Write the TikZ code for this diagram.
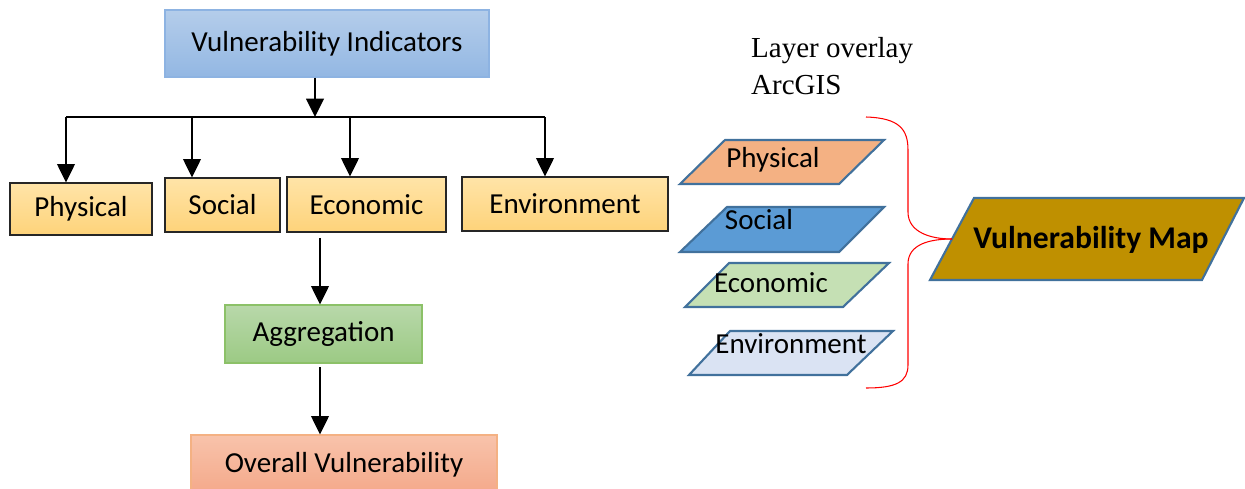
\documentclass[tikz,border=0pt]{standalone}
\usepackage{fontspec}
\setmainfont{Carlito}
\newfontfamily\timesfont{Liberation Serif}
\usetikzlibrary{arrows.meta}

\definecolor{viTop}{HTML}{B4CDEA}
\definecolor{viBot}{HTML}{93B7E3}
\definecolor{viLine}{HTML}{8DB3E2}
\definecolor{catTop}{HTML}{FFE4A8}
\definecolor{catBot}{HTML}{FED37A}
\definecolor{aggTop}{HTML}{B8D8AA}
\definecolor{aggBot}{HTML}{9CCA84}
\definecolor{aggLine}{HTML}{8CC168}
\definecolor{ovrTop}{HTML}{F8C3AB}
\definecolor{ovrBot}{HTML}{F4A889}
\definecolor{ovrLine}{HTML}{F4B183}
\definecolor{layLine}{HTML}{41719C}
\definecolor{layPhys}{HTML}{F4B183}
\definecolor{laySoc}{HTML}{5B9BD5}
\definecolor{layEco}{HTML}{C5E0B4}
\definecolor{layEnv}{HTML}{DAE3F3}
\definecolor{mapFill}{HTML}{BF9000}

\begin{document}
\begin{tikzpicture}[x=0.2mm,y=-0.2mm]
	\tikzset{
		txt/.style={font=\fontsize{16.5}{20}\selectfont},
		box/.style={txt, rectangle, draw, inner sep=0pt, line width=0.6pt},
		catbox/.style={box, draw=black!85, top color=catTop, bottom color=catBot},
		arr/.style={line width=1.3pt, -{Triangle[width=10pt,length=10.5pt]}},
		layer/.style={draw=layLine, line width=1.2pt, line join=miter},
		brace/.style={red, line width=0.6pt}
	}
	\useasboundingbox (0,0) rectangle (1245,488);

	% Top indicator box
	\node[box, draw=viLine, top color=viTop, bottom color=viBot,
		minimum width=64.8mm, minimum height=13.4mm] (vi) at (327,43.5) {Vulnerability Indicators};

	% Four indicator groups
	\node[catbox, minimum width=28.4mm, minimum height=10.4mm] (phys) at (81,209) {Physical};
	\node[catbox, minimum width=23mm, minimum height=10.8mm] (soc) at (222.5,205) {Social};
	\node[catbox, minimum width=31.8mm, minimum height=11mm] (eco) at (366.5,204.5) {Economic};
	\node[catbox, minimum width=41.2mm, minimum height=10.8mm] (env) at (565,204) {Environment};

	% Aggregation and result
	\node[box, draw=aggLine, top color=aggTop, bottom color=aggBot,
		minimum width=39.4mm, minimum height=11.6mm] (agg) at (323.5,334) {Aggregation};
	\node[box, draw=ovrLine, top color=ovrTop, bottom color=ovrBot,
		minimum width=61.2mm, minimum height=12mm] (ovr) at (344,465) {Overall Vulnerability};

	% Branching arrows
	\coordinate (bus) at (315,117);
	\coordinate (b1) at (66,117);
	\coordinate (b2) at (192,117);
	\coordinate (b3) at (350,117);
	\coordinate (b4) at (545,117);
	\draw[arr] (bus |- vi.south) -- (bus);
	\draw[line width=1.3pt] (b1) -- (b4);
	\draw[arr] (b1) -- (b1 |- phys.north);
	\draw[arr] (b2) -- (b2 |- soc.north);
	\draw[arr] (b3) -- (b3 |- eco.north);
	\draw[arr] (b4) -- (b4 |- env.north);

	% Down the middle column
	\coordinate (mid) at (320,0);
	\draw[arr, shorten <=3pt] (eco.south -| mid) -- (agg.north -| mid);
	\draw[arr, shorten <=2pt] (agg.south -| mid) -- (ovr.north -| mid);

	% Overlay caption
	\node[font=\timesfont\fontsize{16.5}{21}\selectfont, align=left, anchor=west] (cap) at (745,66) {Layer overlay\\ArcGIS};

	% Layers (parallelograms)
	\draw[layer, fill=layPhys] (725,140) -- (884,140) -- (839,184) -- (680,184) -- cycle;
	\draw[layer, fill=laySoc] (727,207) -- (884,207) -- (839,252) -- (680,252) -- cycle;
	\draw[layer, fill=layEco] (729,263) -- (889,263) -- (843,307) -- (685,307) -- cycle;
	\draw[layer, fill=layEnv] (730,331) -- (893,331) -- (847,375) -- (689,375) -- cycle;
	\node[txt] (lphys) at (773,160) {Physical};
	\node[txt] (lsoc) at (759,220) {Social};
	\node[txt] (leco) at (771,283) {Economic};
	\node[txt] (lenv) at (791,344) {Environment};

	% Output map
	\draw[layer, fill=mapFill] (974,198) -- (1244,198) -- (1202,280) -- (930,280) -- cycle;
	\node[font=\fontsize{18}{22}\selectfont\bfseries] (vmap) at (1091,240) {Vulnerability Map};
	\coordinate (mapin) at (952,239);

	% Curly brace joining the layers
	\draw[brace] (866,117) .. controls (900,118) and (908,130) .. (908,150) -- (908,212)
		.. controls (908,232) and (930,239) .. (mapin);
	\draw[brace] (mapin) .. controls (930,239) and (908,244) .. (908,264) -- (908,365)
		.. controls (908,382) and (896,388) .. (866,388);
\end{tikzpicture}
\end{document}
